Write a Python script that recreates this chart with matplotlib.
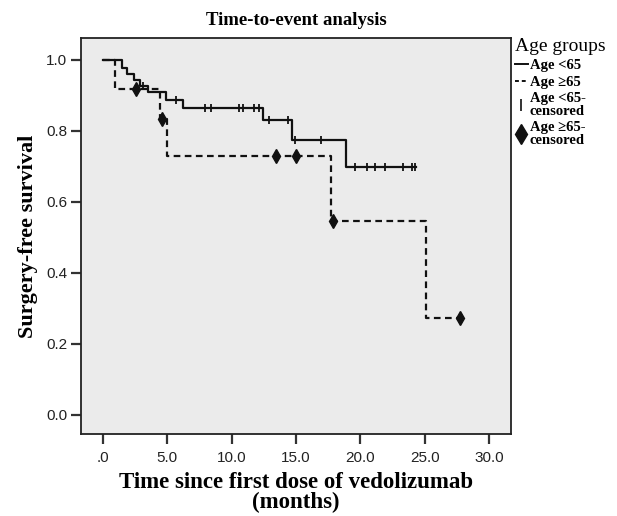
import matplotlib.pyplot as plt
import numpy as np
from matplotlib.lines import Line2D

# Age <65 group: step times and survival levels
t_lt65 = [0, 1.5, 1.9, 2.4, 2.9, 3.5, 4.9, 6.2, 12.45, 14.65, 18.9]
s_lt65 = [1.0, 0.978, 0.960, 0.944, 0.928, 0.911, 0.887, 0.864, 0.831, 0.775, 0.698]
end_lt65 = 24.3
cens_lt65 = [3.1, 5.7, 7.9, 8.4, 10.6, 10.85, 11.7, 12.1, 12.9, 14.4, 14.9, 16.9,
             19.6, 20.5, 21.1, 21.9, 23.3, 24.0, 24.2]

# Age >=65 group
t_ge65 = [0, 0.93, 4.45, 5.0, 17.7, 25.1]
s_ge65 = [1.0, 0.917, 0.833, 0.729, 0.547, 0.273]
end_ge65 = 27.7
cens_ge65 = [2.6, 4.6, 13.4, 15.0, 17.85, 27.7]

xticks = [0, 5, 10, 15, 20, 25, 30]
xtick_labels = ['.0', '5.0', '10.0', '15.0', '20.0', '25.0', '30.0']
yticks = [0.0, 0.2, 0.4, 0.6, 0.8, 1.0]


def surv_at(times, surv, t):
    idx = np.searchsorted(times, t, side='right') - 1
    return np.array(surv)[idx]


fig = plt.figure(figsize=(6.17, 5.16), dpi=100)
ax = fig.add_axes([0.1313, 0.1589, 0.697, 0.7675])
ax.set_facecolor('#ebebeb')

serif = 'Liberation Serif'
sans = 'Liberation Sans'

# curves
x1 = list(t_lt65) + [end_lt65]
y1 = list(s_lt65) + [s_lt65[-1]]
ax.step(x1, y1, where='post', color='#111111', lw=1.6)
x2 = list(t_ge65) + [end_ge65]
y2 = list(s_ge65) + [s_ge65[-1]]
ax.step(x2, y2, where='post', color='#111111', lw=1.6, ls=(0, (3, 2)))

# censor marks
ax.plot(cens_lt65, surv_at(t_lt65, s_lt65, cens_lt65), ls='none', marker='|',
        ms=6, mew=1.3, color='#111111')
ax.plot(cens_ge65, surv_at(t_ge65, s_ge65, cens_ge65), ls='none', marker='d',
        ms=7, color='#111111')

ax.set_xlim(-1.71, 31.7)
ax.set_ylim(-0.054, 1.062)
ax.set_xticks(xticks)
ax.set_xticklabels(xtick_labels)
ax.set_yticks(yticks)
ax.set_yticklabels(['%.1f' % v for v in yticks])
ax.tick_params(direction='out', length=7, width=1.6, color='#333333',
               labelsize=11, labelcolor='#222222', pad=3)
ax.tick_params(axis='x', pad=5)
for lab in ax.get_xticklabels() + ax.get_yticklabels():
    lab.set_fontfamily(sans)
for sp in ax.spines.values():
    sp.set_linewidth(1.3)
    sp.set_color('#222222')

ax.set_title('Time-to-event analysis', fontfamily=serif, fontweight='bold',
             fontsize=13.5, pad=9)
ax.set_xlabel('Time since first dose of vedolizumab\n(months)', fontfamily=serif,
              fontweight='bold', fontsize=16.5, linespacing=0.95, labelpad=5)
ax.set_ylabel('Surgery-free survival', fontfamily=serif, fontweight='bold',
              fontsize=16, labelpad=6)

handles = [
    Line2D([], [], color='#111111', lw=1.4),
    Line2D([], [], color='#111111', lw=1.4, ls=(0, (2, 1.5))),
    Line2D([], [], ls='none', marker='|', ms=9, mew=1.2, color='#111111'),
    Line2D([], [], ls='none', marker='d', ms=10, color='#111111'),
]
labels = ['Age <65', 'Age \u226565', 'Age <65-\ncensored', 'Age \u226565-\ncensored']
leg = ax.legend(handles, labels, title='Age groups', loc='upper left',
                bbox_to_anchor=(1.008, 1.0), frameon=False, borderaxespad=0.0,
                handlelength=0.9, handletextpad=0.15, labelspacing=0.25,
                prop={'family': serif, 'weight': 'bold', 'size': 10.5},
                title_fontproperties={'family': serif, 'size': 14},
                alignment='left', borderpad=0.0)
for txt in leg.get_texts():
    txt.set_linespacing(0.95)

fig.savefig('out.png', dpi=100, facecolor='white')
